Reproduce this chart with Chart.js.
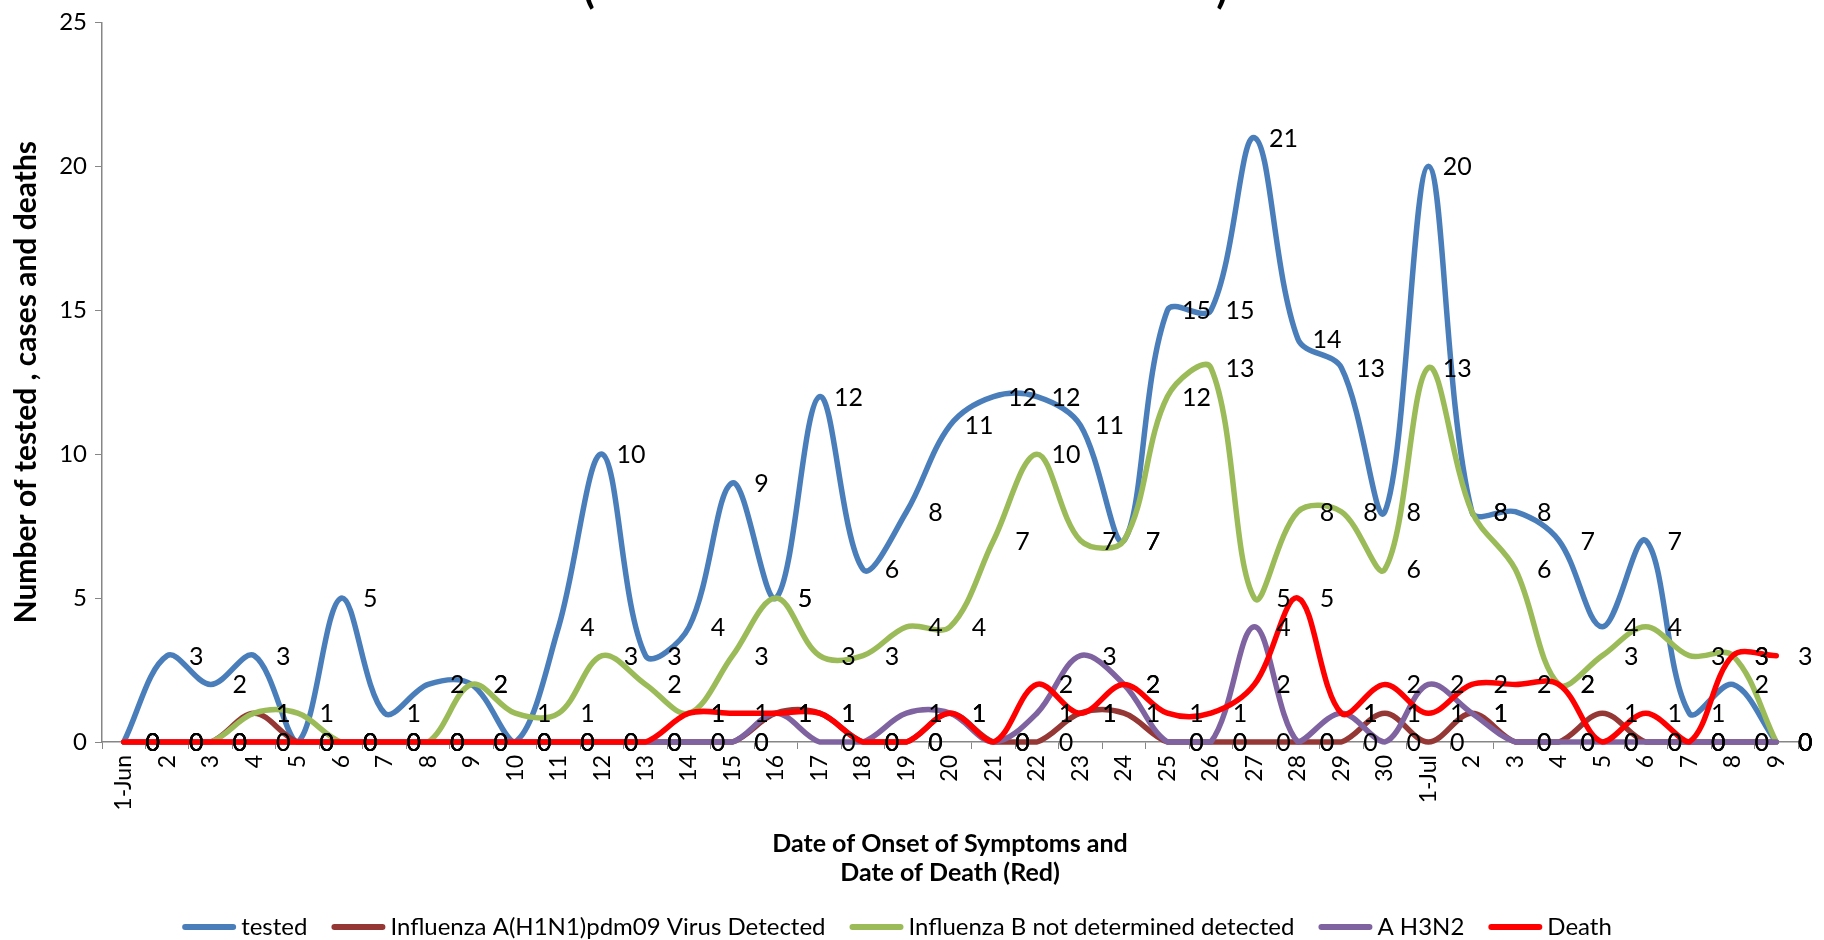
<!DOCTYPE html>
<html>
<head>
<meta charset="utf-8">
<script src="https://cdn.jsdelivr.net/npm/chart.js@4.4.1/dist/chart.umd.min.js"></script>
<style>
  html, body { margin: 0; padding: 0; background: #ffffff; }
  #wrap { width: 1824px; height: 940px; position: relative; }
</style>
</head>
<body>
<div id="wrap"><canvas id="c" width="1824" height="940"></canvas></div>
<script>
// ---------- data ----------
const categories = ['1-Jun','2','3','4','5','6','7','8','9','10',
  '11','12','13','14','15','16','17','18','19','20',
  '21','22','23','24','25','26','27','28','29','30',
  '1-Jul','2','3','4','5','6','7','8','9'];

const tested = [0,3,2,3,0,5,1,2,2,0, 4,10,3,4,9,5,12,6,8,11, 12,12,11,7,15,15,21,14,13,8, 20,8,8,7,4,7,1,2,0];
const h1n1   = [0,0,0,1,0,0,0,0,0,0, 0,0,0,0,0,1,1,0,0,1, 0,0,1,1,0,0,0,0,0,1, 0,1,0,0,1,0,0,0,0];
const fluB   = [0,0,0,1,1,0,0,0,2,1, 1,3,2,1,3,5,3,3,4,4, 7,10,7,7,12,13,5,8,8,6, 13,8,6,2,3,4,3,3,0];
const h3n2   = [0,0,0,0,0,0,0,0,0,0, 0,0,0,0,0,1,0,0,1,1, 0,1,3,2,0,0,4,0,1,0, 2,1,0,0,0,0,0,0,0];
const deaths = [0,0,0,0,0,0,0,0,0,0, 0,0,0,1,1,1,1,0,0,1, 0,2,1,2,1,1,2,5,1,2, 1,2,2,2,0,1,0,3,3];

const seriesNames = ['tested', 'Influenza A(H1N1)pdm09 Virus Detected', 'Influenza B not determined detected', 'A H3N2', 'Death'];
const yTickValues = [0, 5, 10, 15, 20, 25];
const xTitle = ['Date of Onset of Symptoms and', 'Date of Death (Red)'];
const yTitle = 'Number of tested , cases and deaths';

// ---------- style ----------
const FONT = 'Lato, "Open Sans", "DejaVu Sans", sans-serif';
const seriesColors = ['#4A7EBB', '#953735', '#9BBB59', '#7F63A1', '#FF0000'];
const seriesValues = [tested, h1n1, fluB, h3n2, deaths];

const datasets = seriesValues.map((vals, i) => ({
  label: seriesNames[i],
  data: vals,
  borderColor: seriesColors[i],
  backgroundColor: seriesColors[i],
  borderWidth: 5.5,
  pointRadius: 0,
  pointHoverRadius: 0,
  tension: 0.35,
  fill: false,
  borderCapStyle: 'round',
  borderJoinStyle: 'round',
  order: seriesValues.length - i,   // later series drawn on top (like the original)
  clip: false
}));

// data labels: value to the right of each point
const dataLabelPlugin = {
  id: 'dataLabelPlugin',
  afterDatasetsDraw(chart) {
    const ctx = chart.ctx;
    ctx.save();
    ctx.font = '25px ' + FONT;
    ctx.fillStyle = '#000';
    ctx.textAlign = 'center';
    ctx.textBaseline = 'middle';
    chart.data.datasets.forEach((ds, di) => {
      const meta = chart.getDatasetMeta(di);
      meta.data.forEach((pt, i) => {
        ctx.fillText(String(ds.data[i]), pt.x + 29, pt.y + 1);
      });
    });
    ctx.restore();
  }
};

// clipped title remnant at the very top
const topTitlePlugin = {
  id: 'topTitlePlugin',
  afterDraw(chart) {
    const ctx = chart.ctx;
    ctx.save();
    ctx.font = 'bold 42px ' + FONT;
    ctx.fillStyle = '#000';
    ctx.textAlign = 'center';
    ctx.textBaseline = 'alphabetic';
    ctx.fillText('(', 589, 3);
    ctx.fillText(')', 1222, 3);
    ctx.restore();
  }
};

// bottom legend with line samples
const legendPlugin = {
  id: 'legendPlugin',
  afterDraw(chart) {
    const ctx = chart.ctx;
    ctx.save();
    ctx.font = '24px ' + FONT;
    const sample = 54, gapText = 5, gapItem = 24;
    const items = chart.data.datasets.map(d => ({
      text: d.label, color: d.borderColor, w: sample + gapText + ctx.measureText(d.label).width
    }));
    const total = items.reduce((a, b) => a + b.w, 0) + gapItem * (items.length - 1);
    let x = chart.width / 2 - 15 - total / 2;
    const y = 927;
    items.forEach(it => {
      ctx.strokeStyle = it.color;
      ctx.lineWidth = 6;
      ctx.lineCap = 'round';
      ctx.beginPath();
      ctx.moveTo(x + 3, y);
      ctx.lineTo(x + sample - 3, y);
      ctx.stroke();
      ctx.fillStyle = '#000';
      ctx.textAlign = 'left';
      ctx.textBaseline = 'middle';
      ctx.fillText(it.text, x + sample + gapText, y);
      x += it.w + gapItem;
    });
    ctx.restore();
  }
};

new Chart(document.getElementById('c'), {
  type: 'line',
  data: { labels: categories, datasets: datasets },
  options: {
    responsive: false,
    animation: false,
    events: [],
    layout: { padding: { left: 0, right: 26, top: 15, bottom: 0 } },
    plugins: { legend: { display: false }, tooltip: { enabled: false }, title: { display: false } },
    scales: {
      x: {
        type: 'category',
        offset: true,
        grid: { display: true, drawOnChartArea: false, drawTicks: true, tickLength: 7, offset: true,
                color: '#868686', tickColor: '#868686', lineWidth: 1 },
        border: { display: true, color: '#868686', width: 1.5 },
        ticks: { autoSkip: false, maxRotation: 90, minRotation: 90, padding: 6, color: '#000',
                 font: { family: FONT, size: 23 } },
        title: { display: true, text: xTitle, color: '#000',
                 font: { family: FONT, size: 25, weight: 'bold', lineHeight: 1.16 },
                 padding: { top: 0, bottom: 53 } },
        afterFit(scale) { scale.height = 198; }
      },
      y: {
        min: 0, max: 25,
        afterBuildTicks(scale) { scale.ticks = yTickValues.map(v => ({ value: v })); },
        grid: { display: true, drawOnChartArea: false, drawTicks: true, tickLength: 7,
                color: '#868686', tickColor: '#868686' },
        border: { display: true, color: '#868686', width: 1.5 },
        ticks: { padding: 8, color: '#000', font: { family: FONT, size: 24 } },
        title: { display: true, text: yTitle, color: '#000',
                 font: { family: FONT, size: 30, weight: 'bold', lineHeight: 1.1 },
                 padding: { top: 10, bottom: 0 } },
        afterFit(scale) { scale.width = 102; }
      }
    }
  },
  plugins: [dataLabelPlugin, topTitlePlugin, legendPlugin]
});
</script>
</body>
</html>
